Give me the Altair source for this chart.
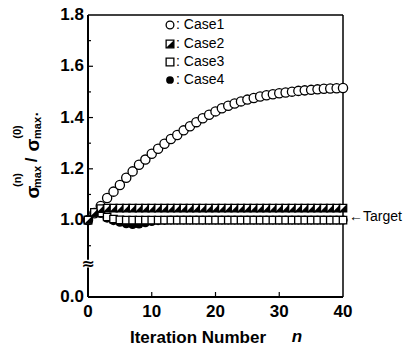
import altair as alt
import pandas as pd

# ---------------- data ----------------
n = list(range(41))
case1 = [1.000, 1.027, 1.055, 1.086, 1.111, 1.137, 1.165, 1.190, 1.216, 1.236,
         1.259, 1.278, 1.298, 1.316, 1.332, 1.350, 1.366, 1.382, 1.397, 1.411,
         1.424, 1.436, 1.446, 1.455, 1.463, 1.470, 1.476, 1.482, 1.487, 1.491,
         1.495, 1.498, 1.501, 1.504, 1.506, 1.508, 1.510, 1.512, 1.513, 1.514, 1.515]
case2 = [1.000, 1.030, 1.045, 1.047, 1.047, 1.047, 1.047, 1.047, 1.047, 1.047,
         1.047, 1.047, 1.047, 1.047, 1.047, 1.047, 1.047, 1.047, 1.047, 1.047,
         1.047, 1.047, 1.047, 1.047, 1.047, 1.047, 1.047, 1.047, 1.047, 1.047,
         1.047, 1.047, 1.047, 1.047, 1.047, 1.047, 1.047, 1.047, 1.047, 1.047, 1.047]
case3 = [1.000, 1.030, 1.028, 1.012, 1.004, 1.001, 1.000, 1.000, 1.000, 1.000,
         1.000, 1.000, 1.000, 1.000, 1.000, 1.000, 1.000, 1.000, 1.000, 1.000,
         1.000, 1.000, 1.000, 1.000, 1.000, 1.000, 1.000, 1.000, 1.000, 1.000,
         1.000, 1.000, 1.000, 1.000, 1.000, 1.000, 1.000, 1.000, 1.000, 1.000, 1.000]
case4 = [1.000, 1.030, 1.026, 1.008, 0.998, 0.992, 0.986, 0.983, 0.985, 0.990,
         0.995, 0.998, 0.999, 1.000, 1.000, 1.000, 1.000, 1.000, 1.000, 1.000,
         1.000, 1.000, 1.000, 1.000, 1.000, 1.000, 1.000, 1.000, 1.000, 1.000,
         1.000, 1.000, 1.000, 1.000, 1.000, 1.000, 1.000, 1.000, 1.000, 1.000, 1.000]

legend_labels = [": Case1", ": Case2", ": Case3", ": Case4"]
x_tick_values = [0, 10, 20, 30, 40]
x_tick_labels = ["0", "10", "20", "30", "40"]
# the y axis is broken: the value 0.0 is drawn at the display position 0.7
y_zero_display = 0.7
y_tick_values = [0.7, 1.0, 1.2, 1.4, 1.6, 1.8]
y_tick_labels = ["0.0", "1.0", "1.2", "1.4", "1.6", "1.8"]
y_minor_values = [0.9, 1.1, 1.3, 1.5, 1.7]
x_inner_ticks = [10, 20, 30]
target_label = "\u2190Target"

FONT = "Liberation Sans"
W, H = 255, 282

df = pd.DataFrame({"n": n, "c1": case1, "c2": case2, "c3": case3, "c4": case4})

xs = alt.Scale(domain=[0, 40], nice=False, zero=False)
ys = alt.Scale(domain=[y_zero_display, 1.8], nice=False, zero=False)


def X(field):
    return alt.X(field, scale=xs, axis=None)


def Y(field):
    return alt.Y(field, scale=ys, axis=None)


base = alt.Chart(df)

SQ = 55
CI = 85

c1 = base.mark_point(shape="circle", size=CI, color="black", strokeWidth=1.3, opacity=1,
                     fill="white", fillOpacity=1).encode(x=X("n:Q"), y=Y("c1:Q"))
c4 = base.mark_point(shape="circle", size=CI, filled=True, color="black", opacity=1).encode(
    x=X("n:Q"), y=Y("c4:Q"))
c3 = base.mark_point(shape="square", size=SQ, color="black", strokeWidth=1.3, opacity=1,
                     fill="white", fillOpacity=1).encode(x=X("n:Q"), y=Y("c3:Q"))
c2a = base.mark_point(shape="square", size=SQ, color="black", strokeWidth=1.3, opacity=1,
                      fill="white", fillOpacity=1).encode(x=X("n:Q"), y=Y("c2:Q"))
c2b = base.mark_point(shape="M -1 1 L 1 -1 L 1 1 Z", size=SQ, filled=True, color="black",
                      opacity=1).encode(x=X("n:Q"), y=Y("c2:Q"))

# frame
frame_df = pd.DataFrame({
    "x1": [0, 0, 0, 40, 0],
    "x2": [0, 0, 40, 40, 40],
    "y1": [y_zero_display, 0.845, 1.8, y_zero_display, y_zero_display],
    "y2": [0.815, 1.8, 1.8, 1.8, y_zero_display],
    "w": [2.0, 2.0, 1.5, 1.5, 2.0],
})
frame = alt.Chart(frame_df).mark_rule(color="black").encode(
    x=X("x1:Q"), x2="x2:Q", y=Y("y1:Q"), y2="y2:Q",
    strokeWidth=alt.StrokeWidth("w:Q", scale=None, legend=None))

# inward ticks
ymaj = alt.Chart(pd.DataFrame({"v": y_tick_values[1:-1]})).mark_rule(
    color="black", strokeWidth=1.2).encode(y=Y("v:Q"), x=alt.value(0), x2=alt.value(5))
ymin = alt.Chart(pd.DataFrame({"v": y_minor_values})).mark_rule(
    color="black", strokeWidth=1.2).encode(y=Y("v:Q"), x=alt.value(0), x2=alt.value(3))
xmaj = alt.Chart(pd.DataFrame({"v": x_inner_ticks})).mark_rule(
    color="black", strokeWidth=1.2).encode(x=X("v:Q"), y=alt.value(H), y2=alt.value(H - 5))

# tick labels
ylab = alt.Chart(pd.DataFrame({"v": y_tick_values, "t": y_tick_labels})).mark_text(
    font=FONT, fontSize=17, fontWeight="bold", align="right", baseline="middle",
    color="black").encode(y=Y("v:Q"), x=alt.value(-4), text="t:N")
xlab = alt.Chart(pd.DataFrame({"v": x_tick_values, "t": x_tick_labels})).mark_text(
    font=FONT, fontSize=17, fontWeight="bold", align="center", baseline="middle",
    color="black").encode(x=X("v:Q"), y=alt.value(H + 15), text="t:N")

# axis break symbol
brk = alt.Chart(pd.DataFrame({"n": [0], "v": [0.83]})).mark_text(
    text="\u2248", font="DejaVu Sans", fontSize=16, fontWeight="bold", color="black"
).encode(x=X("n:Q"), y=Y("v:Q"))

# target label
tgt = alt.Chart(pd.DataFrame({"n": [40], "v": [1.0]})).mark_text(
    text=target_label, font=FONT, fontSize=14, align="left", baseline="middle",
    dx=6, dy=-3, color="black").encode(x=X("n:Q"), y=Y("v:Q"))

# legend (drawn inside the plot)
one = pd.DataFrame({"a": [0]})
leg_y = [10, 29, 47, 65]
lx = 82
leg = [
    alt.Chart(one).mark_point(shape="circle", size=60, color="black", strokeWidth=1.3,
                              opacity=1, fill="white", fillOpacity=1).encode(
        x=alt.value(lx), y=alt.value(leg_y[0])),
    alt.Chart(one).mark_point(shape="square", size=60, color="black", strokeWidth=1.3,
                              opacity=1, fill="white", fillOpacity=1).encode(
        x=alt.value(lx), y=alt.value(leg_y[1])),
    alt.Chart(one).mark_point(shape="M -1 1 L 1 -1 L 1 1 Z", size=60, filled=True,
                              color="black", opacity=1).encode(
        x=alt.value(lx), y=alt.value(leg_y[1])),
    alt.Chart(one).mark_point(shape="square", size=60, color="black", strokeWidth=1.3,
                              opacity=1, fill="white", fillOpacity=1).encode(
        x=alt.value(lx), y=alt.value(leg_y[2])),
    alt.Chart(one).mark_point(shape="circle", size=60, filled=True, color="black",
                              opacity=1).encode(
        x=alt.value(lx), y=alt.value(leg_y[3])),
]
for lab, yy in zip(legend_labels, leg_y):
    leg.append(alt.Chart(one).mark_text(text=lab, font=FONT, fontSize=14, align="left",
                                        baseline="middle", color="black").encode(
        x=alt.value(lx + 6), y=alt.value(yy)))

# axis titles (manual text)
xt1 = alt.Chart(one).mark_text(text="Iteration Number", font=FONT, fontSize=17,
                               fontWeight="bold", align="center", baseline="middle",
                               color="black").encode(x=alt.value(110), y=alt.value(323))
xt2 = alt.Chart(one).mark_text(text="n", font=FONT, fontSize=17, fontWeight="bold",
                               fontStyle="italic", align="center", baseline="middle",
                               color="black").encode(x=alt.value(209), y=alt.value(322))

ypieces = [
    ("\u03c3", -55, 177, 19, "bold"),
    ("(n)", -70, 165, 11, "bold"),
    ("max", -50, 162, 11, "bold"),
    ("/", -56, 145, 17, "bold"),
    ("\u03c3", -55, 130, 19, "bold"),
    ("(0)", -70, 117, 11, "bold"),
    ("max", -50, 113, 11, "bold"),
    ("\u00b7", -50, 99, 14, "bold"),
]
ytitle = []
for t, px, py, fs, fw in ypieces:
    ytitle.append(alt.Chart(one).mark_text(text=t, font=FONT, fontSize=fs, fontWeight=fw,
                                           angle=270, align="center", baseline="middle",
                                           color="black").encode(
        x=alt.value(px), y=alt.value(py)))

chart = alt.layer(
    frame, ymaj, ymin, xmaj, c1, c4, c3, c2a, c2b, brk, tgt, ylab, xlab,
    *leg, xt1, xt2, *ytitle
).properties(
    width=W, height=H,
    padding={"left": 88, "top": 15, "right": 62, "bottom": 50},
    autosize=alt.AutoSizeParams(type="none"),
    background="white",
).configure_view(strokeWidth=0)

chart.save("out.html", embed_options={"renderer": "svg", "actions": False})
